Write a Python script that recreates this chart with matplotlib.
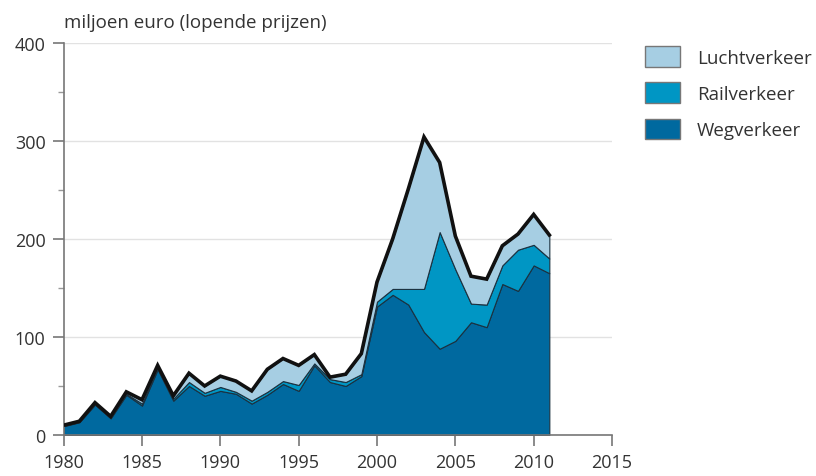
import numpy as np
import matplotlib.pyplot as plt
from matplotlib.ticker import MultipleLocator

plt.rcParams['font.family'] = ['Open Sans', 'DejaVu Sans']

years = np.arange(1980, 2012)
weg = [9, 13, 31, 17, 41, 30, 67, 35, 50, 40, 45, 42, 32, 41, 52, 45,
       71, 54, 50, 60, 131, 143, 133, 105, 88, 96, 115, 110, 154, 147, 173, 165]
rail = [0.5, 0.5, 1, 1, 1, 2, 2, 2, 4, 3, 4, 2, 3, 3, 3, 6,
        2, 3, 4, 2, 5, 6, 16, 44, 119, 73, 19, 23, 19, 42, 21, 15]
lucht = [0.5, 0.5, 1, 1, 2, 4, 2, 3, 9, 7, 11, 11, 10, 23, 23, 20,
         9, 2, 8, 21, 20, 51, 102, 155, 71, 34, 28, 26, 20, 16, 31, 24]
labels = ['Wegverkeer', 'Railverkeer', 'Luchtverkeer']
colors = ['#00699f', '#0096c4', '#a6cee3']

fig = plt.figure(figsize=(8.16, 4.77), dpi=100)
ax = fig.add_axes([0.078, 0.086, 0.672, 0.822])

polys = ax.stackplot(years, weg, rail, lucht, colors=colors, labels=labels,
                     edgecolor='#1a3140', linewidth=0.8, zorder=2)
total = np.array(weg) + np.array(rail) + np.array(lucht)
ax.plot(years, total, color='#111111', lw=2.6, solid_joinstyle='miter', zorder=3)

ax.set_xlim(1980, 2015)
ax.set_ylim(0, 400)
ax.set_xticks(np.arange(1980, 2016, 5))
ax.set_yticks(np.arange(0, 401, 100))
ax.yaxis.set_minor_locator(MultipleLocator(50))
ax.grid(axis='y', color='#e2e2e2', lw=1, zorder=0)
ax.set_axisbelow(True)

for s in ['top', 'right']:
    ax.spines[s].set_visible(False)
for s in ['left', 'bottom']:
    ax.spines[s].set_color('#777777')
    ax.spines[s].set_linewidth(1.2)
ax.tick_params(axis='both', which='major', length=8, width=1.2, color='#777777',
               labelsize=13, labelcolor='#333333')
ax.tick_params(axis='y', which='minor', length=4, width=1, color='#999999')
ax.tick_params(axis='x', pad=5)
ax.tick_params(axis='y', pad=5)

ax.text(0, 1.03, 'miljoen euro (lopende prijzen)', transform=ax.transAxes,
        fontsize=13.5, color='#333333', ha='left', va='bottom')

handles = polys[::-1]
leg = ax.legend(handles, labels[::-1], loc='upper left', bbox_to_anchor=(0.770, 0.937),
                bbox_transform=fig.transFigure, frameon=False, fontsize=13.5,
                handlelength=1.87, handleheight=1.33, labelspacing=0.83, handletextpad=0.9)
for h in leg.legend_handles:
    h.set_edgecolor('#777777')
    h.set_linewidth(1)
for t in leg.get_texts():
    t.set_color('#333333')

plt.savefig('out.png', dpi=100)
